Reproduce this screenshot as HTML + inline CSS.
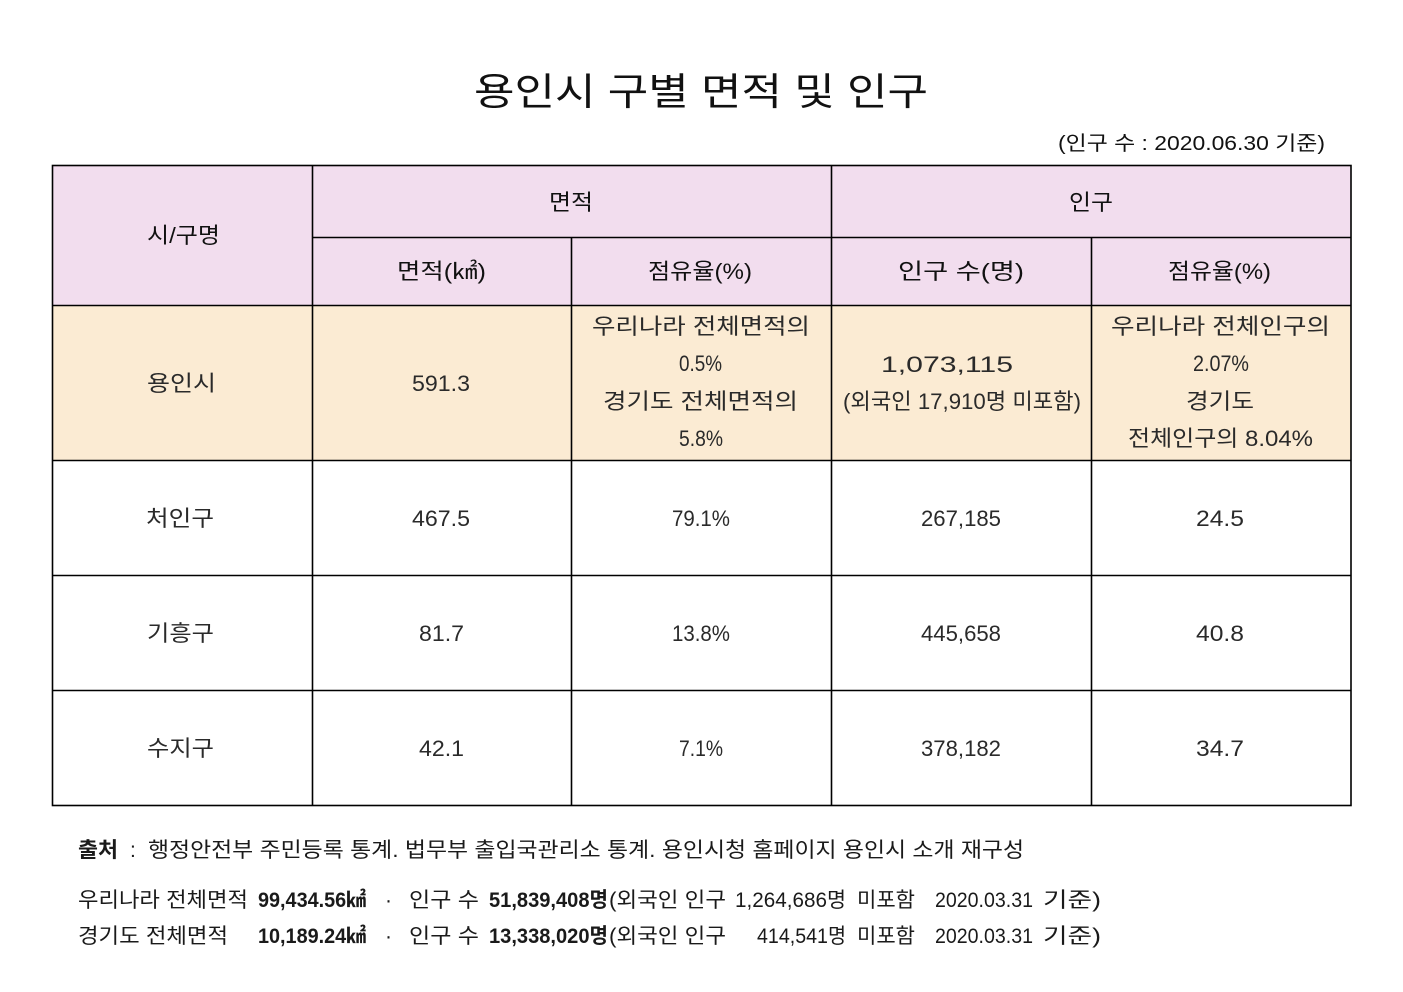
<!DOCTYPE html>
<html><head><meta charset="utf-8"><style>
html,body{margin:0;padding:0;background:#fff;}
svg{display:block;}
text{font-family:"Liberation Sans","Noto Sans CJK KR",sans-serif;}
.b{font-size:22px;fill:#2a2a2a;}
.h{font-size:22px;fill:#111;}
.f{font-size:21px;fill:#1a1a1a;}
.bd{font-weight:bold;}
</style></head><body>
<svg width="1403" height="992" viewBox="0 0 1403 992" xmlns="http://www.w3.org/2000/svg">
<rect width="1403" height="992" fill="#fff"/>
<!-- title -->
<text x="474" y="105" font-size="38" fill="#111" textLength="454" lengthAdjust="spacingAndGlyphs">용인시 구별 면적 및 인구</text>
<text x="1058" y="150" font-size="20" fill="#111" textLength="267" lengthAdjust="spacingAndGlyphs">(인구 수 : 2020.06.30 기준)</text>
<!-- fills -->
<rect x="52" y="165" width="1299" height="140" fill="#f2ddee"/>
<rect x="52" y="305" width="1299" height="155" fill="#fbebd3"/>
<!-- lines -->
<g stroke="#000" stroke-width="1.6" fill="none">
<rect x="52.5" y="165.5" width="1298.5" height="640"/>
<line x1="312.5" y1="165" x2="312.5" y2="806"/>
<line x1="831.5" y1="165" x2="831.5" y2="806"/>
<line x1="571.5" y1="237" x2="571.5" y2="806"/>
<line x1="1091.5" y1="237" x2="1091.5" y2="806"/>
<line x1="312" y1="237.5" x2="1351" y2="237.5"/>
<line x1="52" y1="305.5" x2="1351" y2="305.5"/>
<line x1="52" y1="460.5" x2="1351" y2="460.5"/>
<line x1="52" y1="575.5" x2="1351" y2="575.5"/>
<line x1="52" y1="690.5" x2="1351" y2="690.5"/>
</g>
<!-- headers -->
<text class="h" x="147" y="243" textLength="73" lengthAdjust="spacingAndGlyphs">시/구명</text>
<text class="h" x="549" y="210" textLength="44" lengthAdjust="spacingAndGlyphs">면적</text>
<text class="h" x="1069" y="210" textLength="44" lengthAdjust="spacingAndGlyphs">인구</text>
<text class="h" x="397" y="279" textLength="89" lengthAdjust="spacingAndGlyphs">면적(㎢)</text>
<text class="h" x="648" y="279" textLength="104" lengthAdjust="spacingAndGlyphs">점유율(%)</text>
<text class="h" x="898" y="279" textLength="126" lengthAdjust="spacingAndGlyphs">인구 수(명)</text>
<text class="h" x="1168" y="279" textLength="103" lengthAdjust="spacingAndGlyphs">점유율(%)</text>
<!-- row 용인시 -->
<text class="b" x="147" y="391" textLength="69" lengthAdjust="spacingAndGlyphs">용인시</text>
<text class="b" x="412" y="391" font-size="24" textLength="58" lengthAdjust="spacingAndGlyphs">591.3</text>
<text class="b" x="592" y="334" textLength="218" lengthAdjust="spacingAndGlyphs">우리나라 전체면적의</text>
<text class="b" x="679" y="371" font-size="24" textLength="43" lengthAdjust="spacingAndGlyphs">0.5%</text>
<text class="b" x="603" y="409" textLength="195" lengthAdjust="spacingAndGlyphs">경기도 전체면적의</text>
<text class="b" x="679" y="446" font-size="24" textLength="44" lengthAdjust="spacingAndGlyphs">5.8%</text>
<text class="b" x="881" y="372" font-size="24" textLength="132" lengthAdjust="spacingAndGlyphs">1,073,115</text>
<text class="b" x="843" y="409" textLength="238" lengthAdjust="spacingAndGlyphs">(외국인 17,910명 미포함)</text>
<text class="b" x="1111" y="334" textLength="219" lengthAdjust="spacingAndGlyphs">우리나라 전체인구의</text>
<text class="b" x="1193" y="371" font-size="24" textLength="56" lengthAdjust="spacingAndGlyphs">2.07%</text>
<text class="b" x="1186" y="409" textLength="68" lengthAdjust="spacingAndGlyphs">경기도</text>
<text class="b" x="1128" y="446" textLength="185" lengthAdjust="spacingAndGlyphs">전체인구의 8.04%</text>
<!-- row 처인구 -->
<text class="b" x="146" y="526" textLength="68" lengthAdjust="spacingAndGlyphs">처인구</text>
<text class="b" x="412" y="526" font-size="24" textLength="58" lengthAdjust="spacingAndGlyphs">467.5</text>
<text class="b" x="672" y="526" font-size="24" textLength="58" lengthAdjust="spacingAndGlyphs">79.1%</text>
<text class="b" x="921" y="526" font-size="24" textLength="80" lengthAdjust="spacingAndGlyphs">267,185</text>
<text class="b" x="1196" y="526" font-size="24" textLength="48" lengthAdjust="spacingAndGlyphs">24.5</text>
<!-- row 기흥구 -->
<text class="b" x="147" y="641" textLength="67" lengthAdjust="spacingAndGlyphs">기흥구</text>
<text class="b" x="419" y="641" font-size="24" textLength="45" lengthAdjust="spacingAndGlyphs">81.7</text>
<text class="b" x="672" y="641" font-size="24" textLength="58" lengthAdjust="spacingAndGlyphs">13.8%</text>
<text class="b" x="921" y="641" font-size="24" textLength="80" lengthAdjust="spacingAndGlyphs">445,658</text>
<text class="b" x="1196" y="641" font-size="24" textLength="48" lengthAdjust="spacingAndGlyphs">40.8</text>
<!-- row 수지구 -->
<text class="b" x="147" y="756" textLength="67" lengthAdjust="spacingAndGlyphs">수지구</text>
<text class="b" x="419" y="756" font-size="24" textLength="45" lengthAdjust="spacingAndGlyphs">42.1</text>
<text class="b" x="679" y="756" font-size="24" textLength="44" lengthAdjust="spacingAndGlyphs">7.1%</text>
<text class="b" x="921" y="756" font-size="24" textLength="80" lengthAdjust="spacingAndGlyphs">378,182</text>
<text class="b" x="1196" y="756" font-size="24" textLength="48" lengthAdjust="spacingAndGlyphs">34.7</text>
<!-- footer -->
<text class="f bd" x="78" y="857" textLength="40" lengthAdjust="spacingAndGlyphs">출처</text>
<text class="f" x="130" y="857">:</text>
<text class="f" x="148" y="857" textLength="876" lengthAdjust="spacingAndGlyphs">행정안전부 주민등록 통계. 법무부 출입국관리소 통계. 용인시청 홈페이지 용인시 소개 재구성</text>

<text class="f" x="78" y="907" textLength="170" lengthAdjust="spacingAndGlyphs">우리나라 전체면적</text>
<text class="f bd" x="258" y="907" textLength="108" lengthAdjust="spacingAndGlyphs">99,434.56㎢</text>
<text class="f" x="385" y="907">·</text>
<text class="f" x="409" y="907" textLength="70" lengthAdjust="spacingAndGlyphs">인구 수</text>
<text class="f bd" x="489" y="907" textLength="119" lengthAdjust="spacingAndGlyphs">51,839,408명</text>
<text class="f" x="609" y="907" textLength="117" lengthAdjust="spacingAndGlyphs">(외국인 인구</text>
<text class="f" x="735" y="907" textLength="111" lengthAdjust="spacingAndGlyphs">1,264,686명</text>
<text class="f" x="857" y="907" textLength="58" lengthAdjust="spacingAndGlyphs">미포함</text>
<text class="f" x="935" y="907" textLength="98" lengthAdjust="spacingAndGlyphs">2020.03.31</text>
<text class="f" x="1043" y="907" textLength="58" lengthAdjust="spacingAndGlyphs">기준)</text>

<text class="f" x="78" y="943" textLength="150" lengthAdjust="spacingAndGlyphs">경기도 전체면적</text>
<text class="f bd" x="258" y="943" textLength="108" lengthAdjust="spacingAndGlyphs">10,189.24㎢</text>
<text class="f" x="385" y="943">·</text>
<text class="f" x="409" y="943" textLength="70" lengthAdjust="spacingAndGlyphs">인구 수</text>
<text class="f bd" x="489" y="943" textLength="119" lengthAdjust="spacingAndGlyphs">13,338,020명</text>
<text class="f" x="609" y="943" textLength="117" lengthAdjust="spacingAndGlyphs">(외국인 인구</text>
<text class="f" x="757" y="943" textLength="89" lengthAdjust="spacingAndGlyphs">414,541명</text>
<text class="f" x="857" y="943" textLength="58" lengthAdjust="spacingAndGlyphs">미포함</text>
<text class="f" x="935" y="943" textLength="98" lengthAdjust="spacingAndGlyphs">2020.03.31</text>
<text class="f" x="1043" y="943" textLength="58" lengthAdjust="spacingAndGlyphs">기준)</text>
</svg>
</body></html>
